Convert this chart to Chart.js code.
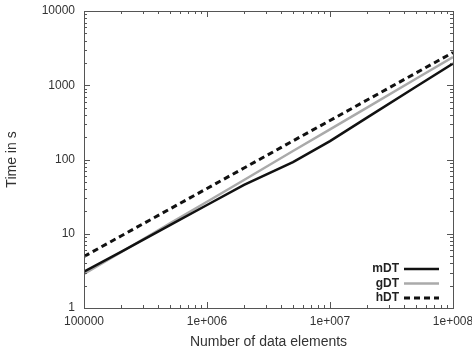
<!DOCTYPE html>
<html lang="en">
<head>
<meta charset="UTF-8" />
<title>Time vs data elements</title>
<script src="https://cdn.jsdelivr.net/npm/chart.js"></script>
<style>
  html, body { margin: 0; padding: 0; background: #fff; }
  canvas { display: block; }
</style>
</head>
<body>
<canvas id="timeChart" width="472" height="355"></canvas>
<script>
  // values (log-log)
  const sizes = [1e5, 2e5, 5e5, 1e6, 2e6, 5e6, 1e7, 2e7, 5e7, 1e8];
  const mDT = [3.08, 5.7, 13.1, 24.4, 45.4, 92, 177, 366, 953, 1963];
  const gDT = [2.87, 5.64, 13.8, 27.0, 53, 130, 255, 500, 1222, 2400];
  const hDT = [4.94, 9.33, 21.6, 40.7, 76.8, 178, 335, 632, 1463, 2762];

  const xTicks = [1e5, 1e6, 1e7, 1e8];
  const xTickLabels = ['100000', '1e+006', '1e+007', '1e+008'];
  const yTicks = [1, 10, 100, 1000, 10000];
  const yTickLabels = ['1', '10', '100', '1000', '10000'];

  const FONT = '"Liberation Sans", Arial, sans-serif';
  const pts = arr => sizes.map((s, i) => ({ x: s, y: arr[i] }));

  // gnuplot-ish box with inward ticks on all four sides
  const frame = {
    id: 'frame',
    afterDraw(chart) {
      const { ctx, chartArea: a, scales } = chart;
      ctx.save();
      ctx.strokeStyle = '#555';
      ctx.lineWidth = 1;
      ctx.strokeRect(a.left + 0.5, a.top + 0.5, a.right - a.left, a.bottom - a.top);
      ctx.beginPath();
      const side = (scale, vals, horiz) => {
        vals.forEach(([v, len]) => {
          const p = Math.round(scale.getPixelForValue(v)) + 0.5;
          if (horiz) {
            ctx.moveTo(p, a.bottom); ctx.lineTo(p, a.bottom - len);
            ctx.moveTo(p, a.top); ctx.lineTo(p, a.top + len);
          } else {
            ctx.moveTo(a.left, p); ctx.lineTo(a.left + len, p);
            ctx.moveTo(a.right, p); ctx.lineTo(a.right - len, p);
          }
        });
      };
      const marks = majors => {
        const out = [];
        majors.forEach((d, i) => {
          out.push([d, 6]);
          if (i < majors.length - 1) for (let m = 2; m < 10; m++) out.push([d * m, 3]);
        });
        return out;
      };
      side(scales.x, marks(xTicks), true);
      side(scales.y, marks(yTicks), false);
      ctx.stroke();

      // legend, text then line sample, bottom right inside the box
      const ds = chart.data.datasets;
      ctx.font = 'bold 12px ' + FONT;
      ctx.textAlign = 'right';
      ctx.textBaseline = 'middle';
      ds.forEach((d, i) => {
        const y = a.bottom - 10 - (ds.length - 1 - i) * 14.5;
        ctx.fillStyle = '#222';
        ctx.fillText(d.label, a.right - 54, y);
        ctx.beginPath();
        ctx.strokeStyle = d.borderColor;
        ctx.lineWidth = d.borderWidth;
        ctx.setLineDash(d.borderDash || []);
        ctx.moveTo(a.right - 49, y);
        ctx.lineTo(a.right - 14, y);
        ctx.stroke();
      });
      ctx.restore();
    }
  };

  const noPad = s => { s.paddingTop = 0; s.paddingBottom = 0; s.paddingLeft = 0; s.paddingRight = 0; };

  const ctx = document.getElementById('timeChart').getContext('2d');
  new Chart(ctx, {
    type: 'line',
    data: {
      datasets: [
        { label: 'mDT', data: pts(mDT), borderColor: '#111', borderWidth: 2.5 },
        { label: 'gDT', data: pts(gDT), borderColor: '#aaa', borderWidth: 2.5 },
        { label: 'hDT', data: pts(hDT), borderColor: '#111', borderWidth: 3, borderDash: [6, 4] }
      ]
    },
    options: {
      responsive: false,
      animation: false,
      layout: { padding: { top: 11, right: 19, left: 0, bottom: 0 } },
      elements: { point: { radius: 0 }, line: { tension: 0, fill: false } },
      plugins: { legend: { display: false }, tooltip: { enabled: false } },
      scales: {
        x: {
          type: 'logarithmic',
          min: 1e5, max: 1e8,
          grid: { display: false, drawTicks: false },
          border: { display: false },
          afterBuildTicks: s => { s.ticks = xTicks.map(v => ({ value: v })); },
          afterFit: s => { s.height = 47; noPad(s); },
          ticks: {
            autoSkip: false, maxRotation: 0, padding: 6,
            color: '#333', font: { family: FONT, size: 12 },
            callback: v => xTickLabels[xTicks.indexOf(v)]
          },
          title: {
            display: true, text: 'Number of data elements',
            color: '#333', font: { family: FONT, size: 14 },
            padding: { top: 4, bottom: 4 }
          }
        },
        y: {
          type: 'logarithmic',
          min: 1, max: 10000,
          grid: { display: false, drawTicks: false },
          border: { display: false },
          afterBuildTicks: s => { s.ticks = yTicks.map(v => ({ value: v })); },
          afterFit: s => { s.width = 84; noPad(s); },
          ticks: {
            padding: 9,
            color: '#333', font: { family: FONT, size: 12 },
            callback: v => yTickLabels[yTicks.indexOf(v)]
          },
          title: {
            display: true, text: 'Time in s',
            color: '#333', font: { family: FONT, size: 14 },
            padding: { top: 4, bottom: 4 }
          }
        }
      }
    },
    plugins: [frame]
  });
</script>
</body>
</html>
